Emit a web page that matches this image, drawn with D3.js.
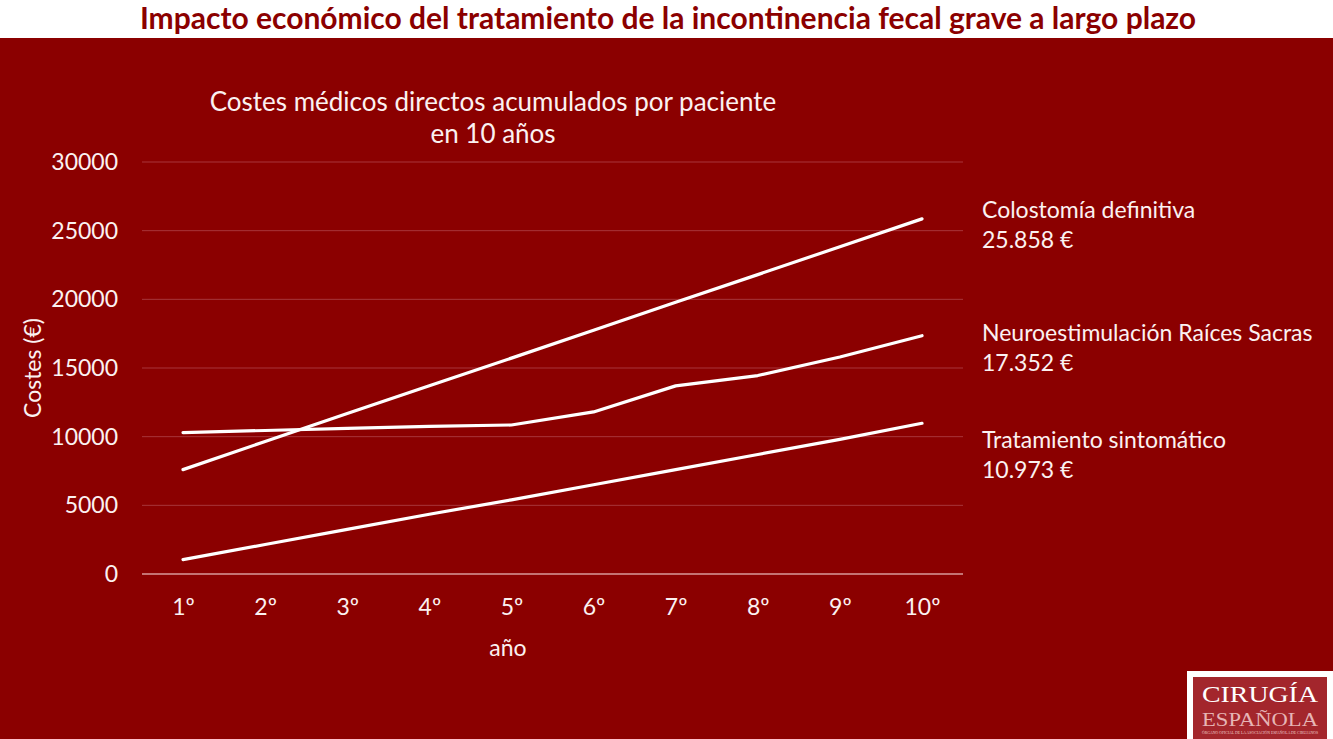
<!DOCTYPE html>
<html>
<head>
<meta charset="utf-8">
<script src="https://cdn.jsdelivr.net/npm/d3@7"></script>
<style>
  html, body { margin: 0; padding: 0; background: #fff; }
  svg { display: block; }
</style>
</head>
<body>
<div id="chart"></div>
<script>
// ── Data ─────────────────────────────────────────────────────────
const years = ["1º", "2º", "3º", "4º", "5º", "6º", "7º", "8º", "9º", "10º"];

const colostomia   = [7600, 9650, 11680, 13700, 15720, 17750, 19780, 21800, 23830, 25858];
const neuroestim   = [10300, 10450, 10600, 10750, 10850, 11800, 13700, 14450, 15800, 17352];
const sintomatico  = [1050, 2150, 3250, 4350, 5400, 6500, 7600, 8700, 9800, 10973];

const seriesNames  = ["Colostomía definitiva", "Neuroestimulación Raíces Sacras", "Tratamiento sintomático"];
const seriesTotals = ["25.858 €", "17.352 €", "10.973 €"];
const yTicks       = [0, 5000, 10000, 15000, 20000, 25000, 30000];

const colors = {
  bg:    "#8B0000",
  text:  "#fbf1f1",
  grid:  "#a8353a",
  base:  "#d99a9a",
  line:  "#ffffff",
};

const W = 1333, H = 739;
const font = "Lato, 'Open Sans', sans-serif";

const svg = d3.select("#chart").append("svg")
  .attr("width", W).attr("height", H);

// ── Backgrounds ─────────────────────────────────────────────────
svg.append("rect").attr("width", W).attr("height", H).attr("fill", "#fff");
svg.append("rect").attr("x", 0).attr("y", 38).attr("width", W).attr("height", H - 38)
  .attr("fill", colors.bg);

// ── Page title ──────────────────────────────────────────────────
svg.append("text")
  .attr("x", 668).attr("y", 29)
  .attr("text-anchor", "middle")
  .style("font-family", font).style("font-size", "30px").style("font-weight", "700")
  .style("fill", colors.bg)
  .text("Impacto económico del tratamiento de la incontinencia fecal grave a largo plazo");

// ── Scales ──────────────────────────────────────────────────────
const plot = { left: 142, right: 963, top: 162, bottom: 574 };

const x = d3.scalePoint()
  .domain(years)
  .range([183, 922]);

const y = d3.scaleLinear()
  .domain([0, 30000])
  .range([plot.bottom, plot.top]);

const g = svg.append("g");

// gridlines
g.selectAll(".grid").data(yTicks).enter().append("line")
  .attr("class", "grid")
  .attr("x1", plot.left).attr("x2", plot.right)
  .attr("y1", d => y(d)).attr("y2", d => y(d))
  .attr("stroke", d => d === 0 ? colors.base : colors.grid)
  .attr("stroke-width", d => d === 0 ? 1.5 : 1);

// y axis
g.append("g")
  .attr("transform", `translate(118,0)`)
  .call(d3.axisLeft(y).tickValues(yTicks).tickSize(0).tickPadding(0).tickFormat(d3.format("d")))
  .call(a => a.select(".domain").remove())
  .call(a => a.selectAll("text")
    .style("font-family", font).style("font-size", "23px").style("fill", colors.text));

// x axis
g.append("g")
  .attr("transform", `translate(0,${plot.bottom + 25})`)
  .call(d3.axisBottom(x).tickSize(0).tickPadding(0))
  .call(a => a.select(".domain").remove())
  .call(a => a.selectAll("text")
    .attr("dy", "0.71em")
    .style("font-family", font).style("font-size", "23px").style("fill", colors.text));

// axis titles
svg.append("text")
  .attr("x", 508).attr("y", 656)
  .attr("text-anchor", "middle")
  .style("font-family", font).style("font-size", "23px").style("fill", colors.text)
  .text("año");

svg.append("text")
  .attr("transform", "translate(41,368) rotate(-90)")
  .attr("text-anchor", "middle")
  .style("font-family", font).style("font-size", "23px").style("fill", colors.text)
  .text("Costes (€)");

// chart title
const ct = svg.append("text")
  .attr("text-anchor", "middle")
  .style("font-family", font).style("font-size", "26px").style("fill", colors.text);
ct.append("tspan").attr("x", 493).attr("y", 111).text("Costes médicos directos acumulados por paciente");
ct.append("tspan").attr("x", 493).attr("y", 143).text("en 10 años");

// ── Lines ───────────────────────────────────────────────────────
const line = d3.line()
  .x((d, i) => x(years[i]))
  .y(d => y(d));

[colostomia, neuroestim, sintomatico].forEach(s => {
  g.append("path")
    .datum(s)
    .attr("fill", "none")
    .attr("stroke", colors.line)
    .attr("stroke-width", 3.2)
    .attr("stroke-linecap", "round")
    .attr("stroke-linejoin", "round")
    .attr("d", line);
});

// ── Series labels ───────────────────────────────────────────────
const labelY = [218, 341, 448];
seriesNames.forEach((name, i) => {
  const t = svg.append("text")
    .style("font-family", font).style("font-size", "23px").style("fill", colors.text);
  t.append("tspan").attr("x", 982).attr("y", labelY[i]).text(name);
  t.append("tspan").attr("x", 982).attr("y", labelY[i] + 30).text(seriesTotals[i]);
});

// ── Logo ────────────────────────────────────────────────────────
const logo = svg.append("g");
logo.append("rect").attr("x", 1187).attr("y", 671).attr("width", 146).attr("height", 68).attr("fill", "#fff");
logo.append("rect").attr("x", 1193).attr("y", 677).attr("width", 134).attr("height", 62).attr("fill", "#a3262c");
logo.append("text").attr("x", 1260).attr("y", 702).attr("text-anchor", "middle")
  .attr("textLength", 116).attr("lengthAdjust", "spacingAndGlyphs")
  .style("font-family", "'Liberation Serif', serif").style("font-size", "24px").style("fill", "#fff")
  .text("CIRUGÍA");
logo.append("text").attr("x", 1260).attr("y", 726).attr("text-anchor", "middle")
  .attr("textLength", 116).attr("lengthAdjust", "spacingAndGlyphs")
  .style("font-family", "'Liberation Serif', serif").style("font-size", "19px").style("fill", "#e6b5b5")
  .text("ESPAÑOLA");
logo.append("text").attr("x", 1260).attr("y", 734).attr("text-anchor", "middle")
  .attr("textLength", 116).attr("lengthAdjust", "spacingAndGlyphs")
  .style("font-family", "'Liberation Serif', serif").style("font-size", "4px").style("fill", "#f0d0d0")
  .text("ÓRGANO OFICIAL DE LA ASOCIACIÓN ESPAÑOLA DE CIRUJANOS");
</script>
</body>
</html>
